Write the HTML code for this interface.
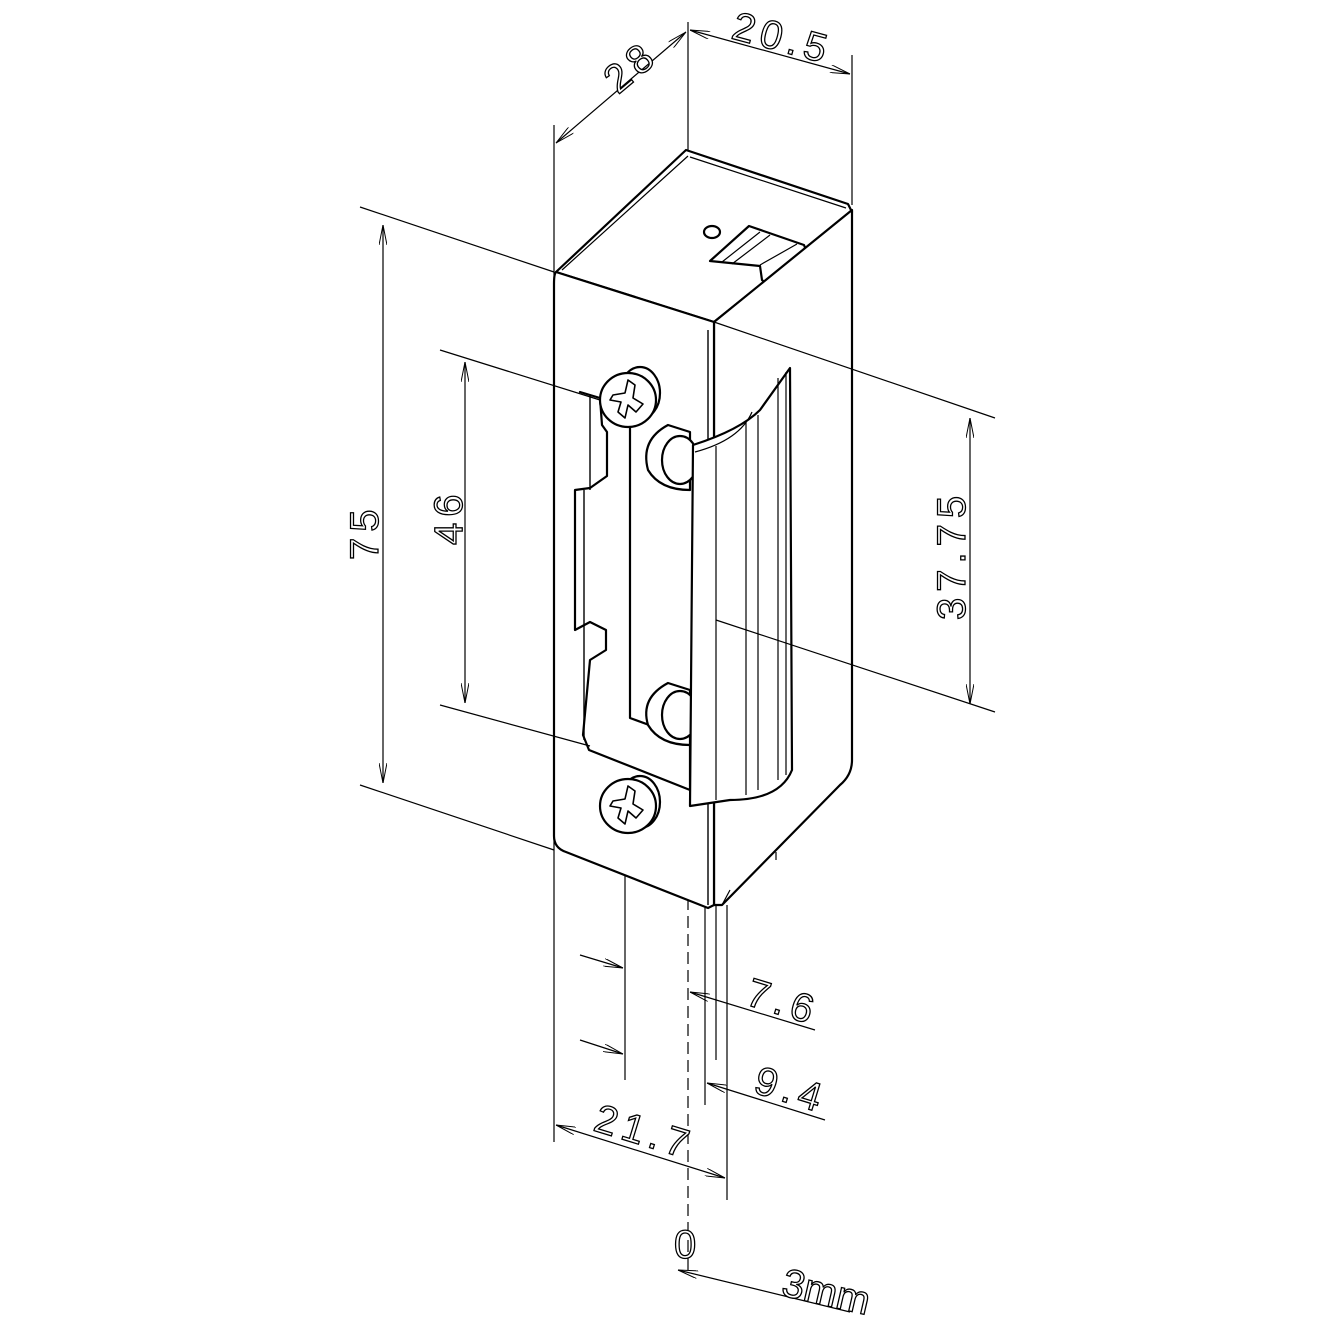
<!DOCTYPE html>
<html><head><meta charset="utf-8"><style>
html,body{margin:0;padding:0;background:#fff}
svg{display:block}
text{font-family:"Liberation Sans",sans-serif;font-size:40px;fill:#fff;stroke:#000;stroke-width:1.3;letter-spacing:6px}
</style></head><body>
<svg width="1331" height="1332" viewBox="0 0 1331 1332" xmlns="http://www.w3.org/2000/svg">
<defs>
<marker id="a" viewBox="0 0 20 8" refX="20" refY="4" markerWidth="20" markerHeight="8" orient="auto" markerUnits="userSpaceOnUse"><path d="M0,0 L20,4 L0,8" fill="none" stroke="#000" stroke-width="1"/></marker>
<marker id="b" viewBox="0 0 20 8" refX="0" refY="4" markerWidth="20" markerHeight="8" orient="auto" markerUnits="userSpaceOnUse"><path d="M20,0 L0,4 L20,8" fill="none" stroke="#000" stroke-width="1"/></marker>
</defs>
<g stroke="#000" stroke-width="1.2" fill="none">
<line x1="554" y1="125" x2="554" y2="1142"/>
<line x1="688" y1="22" x2="688" y2="150"/>
<line x1="852" y1="55" x2="852" y2="205"/>
<line x1="360" y1="207" x2="554" y2="272"/>
<line x1="360" y1="785" x2="554" y2="850"/>
<line x1="625" y1="820" x2="625" y2="1080"/>
<line x1="688" y1="880" x2="688" y2="1275" stroke-dasharray="12,6"/>
<line x1="705" y1="905" x2="705" y2="1105"/>
<line x1="716" y1="905" x2="716" y2="1060"/>
<line x1="727" y1="905" x2="727" y2="1200"/>
<line x1="556" y1="143" x2="686" y2="32" marker-start="url(#b)" marker-end="url(#a)"/>
<line x1="690" y1="30" x2="850" y2="74" marker-start="url(#b)" marker-end="url(#a)"/>
<line x1="383" y1="225" x2="383" y2="783" marker-start="url(#b)" marker-end="url(#a)"/>
<line x1="465" y1="362" x2="465" y2="703" marker-start="url(#b)" marker-end="url(#a)"/>
<line x1="970" y1="418" x2="970" y2="704" marker-start="url(#b)" marker-end="url(#a)"/>
<line x1="580" y1="955" x2="623" y2="968" marker-end="url(#a)"/>
<line x1="690" y1="992" x2="815" y2="1030" marker-start="url(#b)"/>
<line x1="580" y1="1040" x2="623" y2="1054" marker-end="url(#a)"/>
<line x1="707" y1="1083" x2="825" y2="1120" marker-start="url(#b)"/>
<line x1="556" y1="1125" x2="725" y2="1178" marker-start="url(#b)" marker-end="url(#a)"/>
<line x1="678" y1="1270" x2="850" y2="1312" marker-start="url(#b)"/>
</g>
<g stroke="#000" stroke-width="2.2" fill="#fff" stroke-linejoin="round">
<path d="M556,272 L686,150 L848,204 L852,212 L714,322 Z"/>
<path d="M562,270 L688,156 M690,157 L846,208" fill="none" stroke-width="1.2"/>
<ellipse cx="712" cy="232" rx="8" ry="6"/>
<path d="M710,261 L749,226 L804,245 L806,250 L768,285 L762,280 L760,266 Z"/>
<path d="M722,262 L760,232 M732,264 L770,235 M760,265 L797,244" fill="none" stroke-width="1.2"/>
<path d="M714,322 L852,210 L852,760 Q852,775 840,785 L722,905 L714,905 Z"/>
<path d="M776,860 L776,852 M722,905 L730,890" fill="none" stroke-width="1.2"/>
<path d="M556,272 L714,322 L714,905 L708,908 L566,852 Q554,848 554,836 L554,284 Q554,274 556,272 Z"/>
<line x1="708" y1="330" x2="708" y2="905" stroke-width="1.4"/>
<path d="M580,392 L600,398 L602,425 L607,432 L607,476 L590,488 L575,490 L575,630 L590,622 L606,630 L606,650 L590,660 L583,735 L589,750 L690,790 L690,740 L630,718 L630,420 L600,398 Z" fill="#fff"/>
<path d="M590,395 L590,490 M630,420 L630,718 M584,490 L584,740" fill="none" stroke-width="1.4"/>
</g>
<g stroke="#000" stroke-width="1.2" fill="none">
<line x1="440" y1="350" x2="600" y2="400"/>
<line x1="440" y1="705" x2="590" y2="746"/>
<line x1="714" y1="322" x2="995" y2="418"/>
</g>
<g stroke="#000" stroke-width="2.2" fill="#fff" stroke-linejoin="round">
<ellipse cx="640" cy="393" rx="20" ry="26"/>
<ellipse cx="628" cy="400" rx="28" ry="27"/>
<path d="M613,395 L625,393 L628,380 L635,385 L633,398 L643,404 L636,412 L628,405 L625,418 L618,412 L621,402 L610,400 Z" stroke-width="1.6"/>
<ellipse cx="640" cy="802" rx="20" ry="26"/>
<ellipse cx="628" cy="806" rx="28" ry="27"/>
<path d="M613,801 L625,799 L628,786 L635,791 L633,804 L643,810 L636,818 L628,811 L625,824 L618,818 L621,808 L610,806 Z" stroke-width="1.6"/>
<path d="M690,432 L668,425 Q640,440 648,470 Q660,490 690,490 Z"/>
<ellipse cx="680" cy="460" rx="18" ry="24"/>
<path d="M690,690 L668,683 Q640,698 648,725 Q660,745 690,745 Z"/>
<ellipse cx="680" cy="715" rx="18" ry="24"/>
<path d="M693,445 Q740,430 760,410 L790,368 L792,770 Q780,800 730,800 L690,806 Z"/>
<path d="M695,452 Q740,440 752,412 M716,446 L716,800 M746,422 L746,795 M758,415 L758,790 M778,378 L778,780 M786,372 L786,775" fill="none" stroke-width="1.2"/>
</g>
<g stroke="#000" stroke-width="1.2">
<line x1="716" y1="620" x2="995" y2="712"/>
</g>
<text transform="translate(618,95) rotate(-40)">28</text>
<text transform="translate(730,38) rotate(15)">20.5</text>
<text transform="translate(378,560) rotate(-90)">75</text>
<text transform="translate(462,545) rotate(-90)">46</text>
<text transform="translate(965,620) rotate(-90)">37.75</text>
<text transform="translate(744,1004) rotate(17)">7.6</text>
<text transform="translate(752,1092) rotate(17)">9.4</text>
<text transform="translate(592,1130) rotate(17)">21.7</text>
<text x="674" y="1258">0</text>
<text transform="translate(780,1295) rotate(13)" style="letter-spacing:0">3mm</text>
</svg>
</body></html>
